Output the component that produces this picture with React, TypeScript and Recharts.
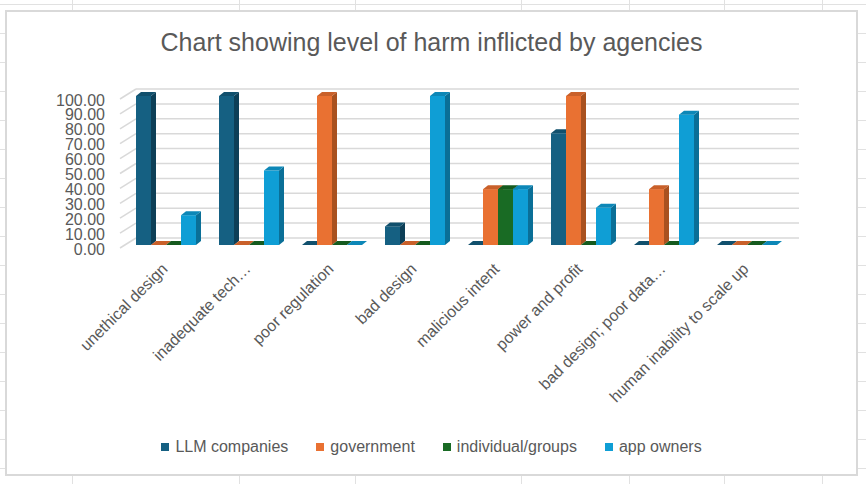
import { BarChart, Bar, XAxis, YAxis, CartesianGrid, Legend } from "recharts";

const categories = [
  "unethical design",
  "inadequate tech…",
  "poor regulation",
  "bad design",
  "malicious intent",
  "power and profit",
  "bad design; poor data…",
  "human inability to scale up",
];

const llmCompanies = [100, 100, 0, 12.5, 0, 75, 0, 0];
const government = [0, 0, 100, 0, 37.5, 100, 37.5, 0];
const individualGroups = [0, 0, 0, 0, 37.5, 0, 0, 0];
const appOwners = [20, 50, 0, 100, 37.5, 25, 87.5, 0];

const yTicks = [0, 10, 20, 30, 40, 50, 60, 70, 80, 90, 100];

const data = categories.map((name, i) => ({
  name,
  llm: llmCompanies[i],
  gov: government[i],
  ind: individualGroups[i],
  app: appOwners[i],
}));

const series = [
  { key: "llm", name: "LLM companies", fill: "#156082", side: "#0d3f57", top: "#11506d" },
  { key: "gov", name: "government", fill: "#e97132", side: "#a9511f", top: "#c9602a" },
  { key: "ind", name: "individual/groups", fill: "#196b24", side: "#104818", top: "#155a1e" },
  { key: "app", name: "app owners", fill: "#0f9ed5", side: "#0a6f97", top: "#0d87b7" },
];

const FONT = "'Liberation Sans', Arial, sans-serif";
const TEXT = "#595959";
const DX = 5;
const DY = -4;

const Bar3D = (props: any) => {
  const { x, y, width, height, fill, side, top } = props;
  if (x == null || y == null) return null;
  const h = Math.max(height || 0, 0);
  return (
    <g>
      {h > 0 && <rect x={x} y={y} width={width} height={h} fill={fill} />}
      {h > 0 && (
        <polygon
          points={`${x + width},${y} ${x + width + DX},${y + DY} ${x + width + DX},${y + h + DY} ${x + width},${y + h}`}
          fill={side}
        />
      )}
      <polygon
        points={`${x},${y} ${x + DX},${y + DY} ${x + width + DX},${y + DY} ${x + width},${y}`}
        fill={top}
      />
    </g>
  );
};

const WallLine = (props: any) => {
  const { x1, y1, x2, index } = props;
  return (
    <g key={`wall-${index}`}>
      <line x1={x1 - 4} y1={y1 + 3} x2={x1 + 12} y2={y1 - 7} stroke="#d9d9d9" strokeWidth={1.5} />
      <line x1={x1 + 12} y1={y1 - 7} x2={x2 + 11} y2={y1 - 7} stroke="#d9d9d9" strokeWidth={1.5} />
    </g>
  );
};

const YTick = (props: any) => {
  const { x, y, payload } = props;
  return (
    <text x={x} y={y + 4} textAnchor="end" dominantBaseline="central" fontSize={16} fontFamily={FONT} fill={TEXT}>
      {Number(payload.value).toFixed(2)}
    </text>
  );
};

const XTick = (props: any) => {
  const { x, y, payload } = props;
  const tx = x + 3;
  const ty = y + 25;
  return (
    <text x={tx} y={ty} textAnchor="end" transform={`rotate(-45 ${tx} ${ty})`} fontSize={16} fontFamily={FONT} fill={TEXT}>
      {payload.value}
    </text>
  );
};

const LegendContent = (props: any) => {
  const { payload = [] } = props;
  const ordered = series
    .map((s) => payload.find((p: any) => p.value === s.name))
    .filter(Boolean);
  return (
    <div
      style={{
        display: "flex",
        justifyContent: "center",
        alignItems: "center",
        gap: 28,
        height: 24,
        fontFamily: FONT,
        fontSize: 16,
        color: TEXT,
      }}
    >
      {ordered.map((item: any) => (
        <span key={item.value} style={{ display: "flex", alignItems: "center" }}>
          <span style={{ width: 8, height: 8, background: item.color, marginRight: 6 }} />
          {item.value}
        </span>
      ))}
    </div>
  );
};

const sheetCols = [72, 239, 355, 521, 629, 724, 822];

export default function App() {
  return (
    <div
      style={{
        position: "absolute",
        left: 0,
        top: 0,
        width: 866,
        height: 484,
        overflow: "hidden",
        background: "repeating-linear-gradient(to bottom, transparent 0px, transparent 4px, #e1e1e1 4px, #e1e1e1 5px, transparent 5px, transparent 29px) #ffffff",
        backgroundPosition: "0 0",
      }}
    >
      {sheetCols.map((cx) => (
        <div key={cx} style={{ position: "absolute", left: cx, top: 0, width: 1, height: 484, background: "#e1e1e1" }} />
      ))}
      <div
        style={{
          position: "absolute",
          left: 5,
          top: 10,
          width: 853,
          height: 466,
          background: "#ffffff",
          boxShadow: "inset 0 0 0 2px #d9d9d9",
        }}
      >
        <div
          style={{
            position: "absolute",
            left: 0,
            top: 20,
            width: 853,
            textAlign: "center",
            fontFamily: FONT,
            fontSize: 25,
            lineHeight: "25px",
            color: TEXT,
          }}
        >
          Chart showing level of harm inflicted by agencies
        </div>
        <div style={{ position: "absolute", left: 0, top: 0 }}>
          <BarChart
            width={853}
            height={466}
            data={data}
            margin={{ top: 86, right: 70, left: 0, bottom: 0 }}
            barSize={15}
            barGap={0}
          >
            <CartesianGrid vertical={false} horizontal={WallLine as any} />
            <XAxis
              dataKey="name"
              axisLine={false}
              tickLine={false}
              tickSize={0}
              tickMargin={0}
              interval={0}
              height={207}
              tick={<XTick />}
            />
            <YAxis
              domain={[0, 100]}
              ticks={yTicks}
              axisLine={false}
              tickLine={false}
              tickSize={0}
              tickMargin={19}
              width={119}
              interval={0}
              tick={<YTick />}
            />
            <Legend
              verticalAlign="bottom"
              content={<LegendContent />}
              wrapperStyle={{ position: "absolute", left: 0, top: 425, width: 853, height: 24 }}
            />
            {series.map((s) => (
              <Bar
                key={s.key}
                dataKey={s.key}
                name={s.name}
                fill={s.fill}
                isAnimationActive={false}
                shape={(p: any) => <Bar3D {...p} side={s.side} top={s.top} />}
              />
            ))}
          </BarChart>
        </div>
      </div>
    </div>
  );
}
